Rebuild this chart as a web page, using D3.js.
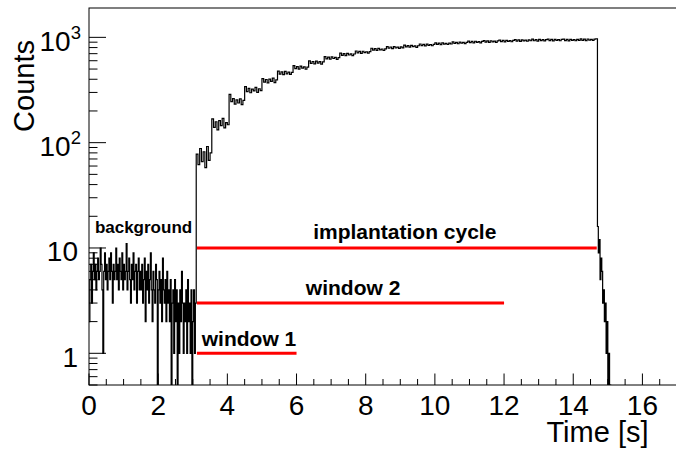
<!DOCTYPE html>
<html>
<head>
<meta charset="utf-8">
<script src="https://cdn.jsdelivr.net/npm/d3@7/dist/d3.min.js"></script>
<style>
  html, body { margin: 0; padding: 0; background: #fff; }
  svg { display: block; }
  text { font-family: "Liberation Sans", Arial, Helvetica, sans-serif; fill: #000; }
</style>
</head>
<body>
<svg id="chart" width="676" height="449"></svg>
<script>
// ---------------- data ----------------
// background, 0 - 3.1 s, 0.025 s bins
const bgStart = 0, bgBinWidth = 0.025;
const bgCounts = [
  2,5,7,3,6,9,5,7,4,6,
  8,5,6,10,7,4,1,6,9,5,
  7,4,6,8,5,9,6,3,7,5,
  6,10,5,7,4,8,6,5,9,4,
  7,5,6,11,4,6,8,5,3,7,
  5,9,4,6,7,3,6,8,4,6,
  4,7,3,5,8,2,6,4,7,3,
  5,9,4,2,6,4,3,7,5,0,
  4,6,3,5,2,8,4,3,5,2,
  6,3,4,2,5,0,3,4,1,5,
  2,4,0,3,1,4,2,6,3,1,
  3,2,4,1,5,2,3,1,4,0,
  2,4,1,3
];

// implantation cycle, 3.1 - 14.7 s, 0.05 s bins
const implStart = 3.1, implBinWidth = 0.05;
const implCounts = [
  78,62,88,66,82,58,92,68,80,
  168,140,158,132,162,145,170,138,155,148,
  288,245,262,232,255,238,260,230,252,
  340,305,328,298,322,310,335,300,325,312,
  405,375,398,370,402,382,410,372,395,
  478,448,470,442,475,450,468,445,465,
  538,505,528,500,532,510,525,498,522,
  598,565,590,560,595,570,588,558,585,
  655,625,648,620,652,630,645,618,642,
  708,675,700,672,705,680,698,670,695,
  742,712,735,705,738,715,730,708,732,
  788,755,780,752,785,760,775,750,778,
  818,788,810,782,815,792,808,785,812,795,
  842,812,835,808,838,815,830,805,832,
  865,835,858,830,862,840,855,832,858,
  888,858,880,852,885,862,878,855,882,865,
  905,875,898,870,902,880,895,872,898,
  922,890,915,885,918,895,912,888,915,
  932,900,925,895,928,905,922,898,925,
  942,910,935,905,938,915,932,908,935,
  952,920,945,915,948,925,942,918,945,928,
  960,928,952,922,955,932,950,925,952,
  962,930,955,925,958,935,952,928,955,
  962,932,955,925,958,935,952,928,955,938,
  968,935,960,930,965,940,958,935,962,970
];

// decay after the cycle, 14.7 s onwards, 0.025 s bins
const tailStart = 14.7, tailBinWidth = 0.025;
const tailCounts = [16,9,12,5,8,6,3,4,2,3,1,2,0,1,0,0];

// time windows (red lines)
const windowNames  = ["implantation cycle", "window 2", "window 1"];
const windowStart  = [3.12, 3.12, 3.12];
const windowEnd    = [14.68, 12.0, 6.0];
const windowLevel  = [10, 3, 1];
const windowLabelT = [6.48, 6.27, 3.26];

const bgLabel = "background";
const bgLabelT = 0.17;

// axes
const xDomain = [0, 17];
const yDomain = [0.5, 1900];
const xMajorTicks = [0,2,4,6,8,10,12,14,16];
const xTickLabels = ["0","2","4","6","8","10","12","14","16"];
const yMajorTicks = [1, 10, 100, 1000];
const yTickBase   = ["1", "10", "10", "10"];
const yTickExp    = ["",  "",   "2",  "3"];
const xTitle = "Time [s]";
const yTitle = "Counts";

// ---------------- drawing ----------------
const svg = d3.select("#chart");
const L = 89, R = 677, T = 8, B = 385;

const x = d3.scaleLinear().domain(xDomain).range([L, R]);
const y = d3.scaleLog().domain(yDomain).range([B, T]);

svg.append("defs").append("clipPath").attr("id", "clip")
  .append("rect").attr("x", L).attr("y", T).attr("width", R - L).attr("height", B - T);

// histogram (variable-width segments)
const pts = [];
[[bgStart, bgBinWidth, bgCounts],
 [implStart, implBinWidth, implCounts],
 [tailStart, tailBinWidth, tailCounts]].forEach(([s, w, arr]) => {
  arr.forEach((c, i) => pts.push([s + i * w, c]));
});
pts.push([tailStart + tailCounts.length * tailBinWidth, tailCounts[tailCounts.length - 1]]);
const clampY = v => y(Math.max(v, yDomain[0]));

const line = d3.line()
  .x(d => x(d[0]))
  .y(d => clampY(d[1]))
  .curve(d3.curveStepAfter);

svg.append("path")
  .attr("clip-path", "url(#clip)")
  .attr("d", line(pts))
  .attr("fill", "none")
  .attr("stroke", "#000")
  .attr("stroke-width", 1.2);

// red window lines
windowNames.forEach((n, i) => {
  svg.append("line")
    .attr("x1", x(windowStart[i])).attr("x2", x(windowEnd[i]))
    .attr("y1", y(windowLevel[i])).attr("y2", y(windowLevel[i]))
    .attr("stroke", "#ff0000").attr("stroke-width", 3);
});
const labelOffsets = [-9, -8, -7.5];
windowNames.forEach((n, i) => {
  svg.append("text")
    .attr("x", x(windowLabelT[i]))
    .attr("y", y(windowLevel[i]) + labelOffsets[i])
    .attr("font-size", 21).attr("font-weight", "bold")
    .text(n);
});
svg.append("text")
  .attr("x", x(bgLabelT)).attr("y", 233)
  .attr("font-size", 17).attr("font-weight", "bold")
  .text(bgLabel);

// frame
svg.append("rect")
  .attr("x", L).attr("y", T).attr("width", R - L).attr("height", B - T)
  .attr("fill", "none").attr("stroke", "#000").attr("stroke-width", 1);

// x axis ticks
const xMinor = d3.range(xDomain[0], xDomain[1] + 1e-9, 0.5);
const xAxisG = svg.append("g").attr("transform", `translate(0,${B})`);
xAxisG.call(d3.axisBottom(x).tickValues(xMinor).tickSize(0).tickFormat(""));
xAxisG.select(".domain").remove();
xMinor.forEach(t => {
  const major = Math.abs(t / 2 - Math.round(t / 2)) < 1e-9;
  svg.append("line")
    .attr("x1", x(t)).attr("x2", x(t))
    .attr("y1", B).attr("y2", B - (major ? 11.5 : 6))
    .attr("stroke", "#000").attr("stroke-width", 1);
});
xMajorTicks.forEach((t, i) => {
  svg.append("text")
    .attr("x", x(t)).attr("y", 415)
    .attr("text-anchor", "middle")
    .attr("font-size", 28)
    .text(xTickLabels[i]);
});

// y axis ticks
const yMinor = [];
[0.1, 1, 10, 100, 1000].forEach(dec => {
  for (let k = 1; k <= 9; k++) {
    const v = dec * k;
    if (v >= yDomain[0] && v <= yDomain[1]) yMinor.push(v);
  }
});
const yAxisG = svg.append("g").attr("transform", `translate(${L},0)`);
yAxisG.call(d3.axisRight(y).tickValues(yMinor).tickSize(0).tickFormat(""));
yAxisG.select(".domain").remove();
yMinor.forEach(v => {
  const major = yMajorTicks.includes(v);
  svg.append("line")
    .attr("x1", L).attr("x2", L + (major ? 17 : 8.5))
    .attr("y1", y(v)).attr("y2", y(v))
    .attr("stroke", "#000").attr("stroke-width", 1);
});
yMajorTicks.forEach((v, i) => {
  const hasExp = yTickExp[i] !== "";
  const tx = svg.append("text")
    .attr("x", hasExp ? 81 : 78)
    .attr("y", y(v) + 13.3)
    .attr("text-anchor", "end")
    .attr("font-size", 28);
  tx.append("tspan").text(yTickBase[i]);
  if (hasExp) {
    tx.append("tspan").attr("font-size", 18.5).attr("dy", -11.7).text(yTickExp[i]);
  }
});

// axis titles
svg.append("text")
  .attr("x", 648.5).attr("y", 442)
  .attr("text-anchor", "end")
  .attr("font-size", 29)
  .text(xTitle);

svg.append("text")
  .attr("transform", "translate(33.5,40) rotate(-90)")
  .attr("text-anchor", "end")
  .attr("font-size", 29)
  .text(yTitle);
</script>
</body>
</html>
